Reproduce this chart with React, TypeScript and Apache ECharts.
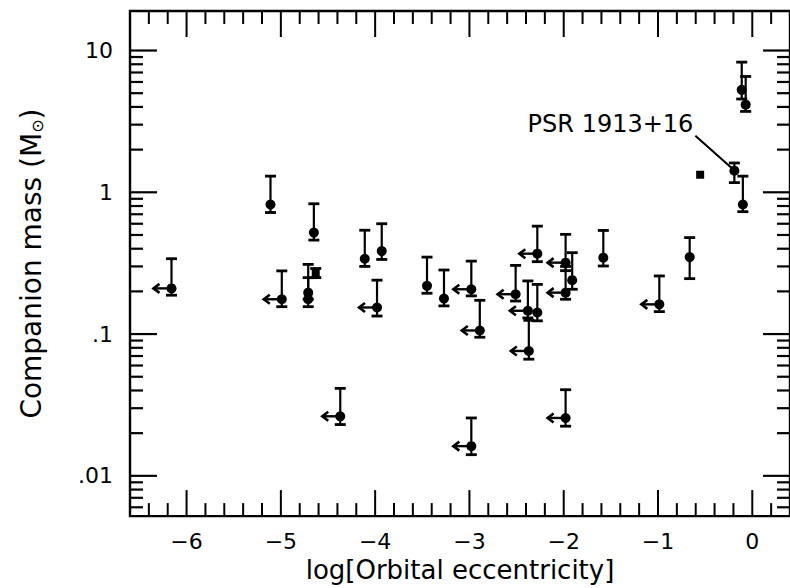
import React, { useEffect, useRef } from "react";
import * as echarts from "echarts";

// Axis ranges
const X_MIN = -6.6;
const X_MAX = 0.4;
const Y_MIN = 0.0052;
const Y_MAX = 19;

// Data: log(eccentricity), companion mass, error low, error high, upper limit on e
const logEcc = [
  -6.16, -5.11, -4.99, -4.65, -4.71, -4.71, -4.37, -4.11, -3.93, -3.98,
  -3.45, -3.27, -2.98, -2.89, -2.98, -2.51, -2.28, -2.38, -2.28, -2.37,
  -1.98, -1.98, -1.91, -1.98, -1.58, -0.986, -0.664, -0.19, -0.10, -0.112,
  -0.07,
];
const mass = [
  0.21, 0.82, 0.176, 0.52, 0.196, 0.176, 0.0263, 0.34, 0.385, 0.154,
  0.219, 0.178, 0.207, 0.106, 0.0162, 0.191, 0.369, 0.146, 0.142, 0.076,
  0.319, 0.196, 0.24, 0.0256, 0.346, 0.162, 0.349, 1.42, 0.82, 5.28,
  4.15,
];
const massLow = [
  0.188, 0.72, 0.156, 0.46, 0.176, 0.156, 0.023, 0.30, 0.336, 0.134,
  0.194, 0.158, 0.186, 0.095, 0.0141, 0.171, 0.324, 0.13, 0.124, 0.0665,
  0.28, 0.176, 0.207, 0.0224, 0.302, 0.144, 0.246, 1.17, 0.73, 4.55,
  3.72,
];
const massHigh = [
  0.34, 1.3, 0.279, 0.83, 0.31, 0.25, 0.0414, 0.54, 0.6, 0.24,
  0.349, 0.283, 0.327, 0.173, 0.0256, 0.305, 0.577, 0.237, 0.224, 0.125,
  0.505, 0.3, 0.375, 0.0405, 0.538, 0.257, 0.479, 1.61, 1.3, 8.28,
  6.56,
];
const upperLimit = [
  1, 0, 1, 0, 0, 0, 1, 0, 0, 1,
  0, 0, 1, 1, 1, 1, 1, 1, 0, 1,
  1, 1, 0, 1, 0, 1, 0, 0, 0, 0,
  0,
];

// Square markers
const sqLogEcc = [-4.63, -0.553];
const sqMass = [0.268, 1.33];
const sqLow = [0.25, 1.33];
const sqHigh = [0.29, 1.33];

// Annotation
const annotationText = "PSR 1913+16";
const annotationPoint = [-0.19, 1.42];

// Tick label text for the log axis
const yLabelMap: Record<string, string> = { "1": "10", "0": "1", "-1": ".1", "-2": ".01" };
const FONT = "DejaVu Sans";

// Frame tick positions (0.2 steps on x, 1..9 per decade on y)
const xMinorTicks: number[] = [];
const xMajorTicks: number[] = [];
for (let k = -32; k <= 1; k++) {
  if (k % 5 === 0) xMajorTicks.push(k / 5);
  else xMinorTicks.push(k / 5);
}
const yMinorTicks: number[] = [];
const yMajorTicks: number[] = [];
for (let d = -3; d <= 1; d++) for (let m = 1; m <= 9; m++) {
  const v = m * Math.pow(10, d);
  if (v > Y_MIN && v < Y_MAX) (m === 1 ? yMajorTicks : yMinorTicks).push(v);
}

export default function App() {
  const ref = useRef<HTMLDivElement>(null);
  useEffect(() => {
    if (!ref.current) return;
    const chart = echarts.init(ref.current, null, { renderer: "svg" });
    const blk = "#000";

    const barData = logEcc.map((x, i) => [x, mass[i], massLow[i], massHigh[i], upperLimit[i]]);
    const sqBarData = sqLogEcc.map((x, i) => [x, sqMass[i], sqLow[i], sqHigh[i], 0]);

    const errRender = (params: any, api: any) => {
      const x = api.value(0);
      const y = api.value(1);
      const lo = api.value(2);
      const hi = api.value(3);
      const lim = api.value(4);
      const p = api.coord([x, y]);
      const pl = api.coord([x, lo]);
      const ph = api.coord([x, hi]);
      const cw = 5.5;
      const st = { stroke: blk, lineWidth: 2.2 };
      const cst = { stroke: blk, lineWidth: 2.8 };
      const children: any[] = [];
      if (Math.abs(pl[1] - ph[1]) > 1) {
        children.push({ type: "line", shape: { x1: p[0], y1: pl[1], x2: p[0], y2: ph[1] }, style: st });
        children.push({ type: "line", shape: { x1: p[0] - cw, y1: ph[1], x2: p[0] + cw, y2: ph[1] }, style: cst });
        children.push({ type: "line", shape: { x1: p[0] - cw, y1: pl[1], x2: p[0] + cw, y2: pl[1] }, style: cst });
      }
      if (lim) {
        const L = 18;
        children.push({ type: "line", shape: { x1: p[0], y1: p[1], x2: p[0] - L, y2: p[1] }, style: { stroke: blk, lineWidth: 2.4 } });
        children.push({
          type: "polyline",
          shape: { points: [[p[0] - L + 6, p[1] - 4.5], [p[0] - L, p[1]], [p[0] - L + 6, p[1] + 4.5]] },
          style: { stroke: blk, lineWidth: 2.6, fill: null },
        });
      }
      return { type: "group", children };
    };

    const annRender = (params: any, api: any) => {
      const p = api.coord([api.value(0), api.value(1)]);
      return {
        type: "group",
        children: [
          { type: "line", shape: { x1: p[0] - 3, y1: p[1] - 3, x2: p[0] - 39, y2: p[1] - 35 }, style: { stroke: blk, lineWidth: 2 } },
          {
            type: "text",
            x: p[0] - 41,
            y: p[1] - 47,
            style: { text: annotationText, fontSize: 24, fontFamily: FONT, fill: blk, align: "right", verticalAlign: "middle" },
          },
        ],
      };
    };

    const tickSeries = (data: number[][], size: number[], offset: number[]) => ({
      type: "scatter",
      data,
      symbol: "rect",
      symbolSize: size,
      symbolOffset: offset,
      itemStyle: { color: blk, opacity: 1 },
      clip: false,
      silent: true,
      z: 5,
    });

    chart.setOption({
      animation: false,
      backgroundColor: "#fff",
      grid: { left: 130, top: 11, right: -7, bottom: 71, show: true, borderColor: blk, borderWidth: 2.4, backgroundColor: "transparent" },
      xAxis: {
        type: "value",
        min: X_MIN,
        max: X_MAX,
        interval: 0.2,
        axisLine: { show: false },
        axisTick: { show: false },
        splitLine: { show: false },
        axisLabel: {
          margin: 14,
          color: blk,
          fontSize: 22,
          fontFamily: FONT,
          showMinLabel: false,
          showMaxLabel: false,
          formatter: (v: number) => {
            const r = Math.round(v);
            if (Math.abs(v - r) > 1e-6) return "";
            return r < 0 ? "\u2212" + Math.abs(r) : String(r);
          },
        },
        name: "log[Orbital eccentricity]",
        nameLocation: "middle",
        nameGap: 40,
        nameTextStyle: { color: blk, fontSize: 26, fontFamily: FONT },
      },
      yAxis: {
        type: "log",
        logBase: 10,
        min: Y_MIN,
        max: Y_MAX,
        axisLine: { show: false },
        axisTick: { show: false },
        splitLine: { show: false },
        axisLabel: {
          margin: 17,
          color: blk,
          fontSize: 22,
          fontFamily: FONT,
          showMinLabel: false,
          showMaxLabel: false,
          formatter: (v: number) => {
            const l = Math.log10(v);
            const r = Math.round(l);
            if (Math.abs(l - r) > 1e-6) return "";
            return yLabelMap[String(r)] || "";
          },
        },
        name: "Companion mass (M{s|\u2299})",
        nameLocation: "middle",
        nameGap: 85,
        nameTextStyle: {
          color: blk,
          fontSize: 28,
          fontFamily: FONT,
          rich: { s: { fontSize: 16, fontFamily: FONT, color: blk, verticalAlign: "bottom", padding: [12, 0, 0, 0] } },
        },
      },
      series: [
        tickSeries(xMinorTicks.map((v) => [v, Y_MIN]), [2, 13], [0, -6.5]),
        tickSeries(xMinorTicks.map((v) => [v, Y_MAX]), [2, 13], [0, 6.5]),
        tickSeries(xMajorTicks.map((v) => [v, Y_MIN]), [2, 26], [0, -13]),
        tickSeries(xMajorTicks.map((v) => [v, Y_MAX]), [2, 26], [0, 13]),
        tickSeries(yMinorTicks.map((v) => [X_MIN, v]), [13, 2.2], [6.5, 0]),
        tickSeries(yMinorTicks.map((v) => [X_MAX, v]), [13, 2.2], [-6.5, 0]),
        tickSeries(yMajorTicks.map((v) => [X_MIN, v]), [27, 2.2], [13.5, 0]),
        tickSeries(yMajorTicks.map((v) => [X_MAX, v]), [27, 2.2], [-13.5, 0]),
        { type: "custom", name: "errors", data: barData, encode: { x: 0, y: [1, 2, 3] }, renderItem: errRender, z: 2 },
        { type: "custom", name: "sqErrors", data: sqBarData, encode: { x: 0, y: [1, 2, 3] }, renderItem: errRender, z: 2 },
        {
          type: "scatter",
          name: "points",
          data: logEcc.map((x, i) => [x, mass[i]]),
          symbol: "circle",
          symbolSize: 10,
          itemStyle: { color: blk, opacity: 1 },
          z: 3,
        },
        {
          type: "scatter",
          name: "squares",
          data: sqLogEcc.map((x, i) => [x, sqMass[i]]),
          symbol: "rect",
          symbolSize: 8,
          itemStyle: { color: blk, opacity: 1 },
          z: 3,
        },
        { type: "custom", name: "annotation", data: [annotationPoint], encode: { x: 0, y: 1 }, renderItem: annRender, clip: false, z: 4 },
      ],
    });
    return () => chart.dispose();
  }, []);
  return <div ref={ref} style={{ position: "absolute", left: 0, top: 0, width: 790, height: 588 }} />;
}
